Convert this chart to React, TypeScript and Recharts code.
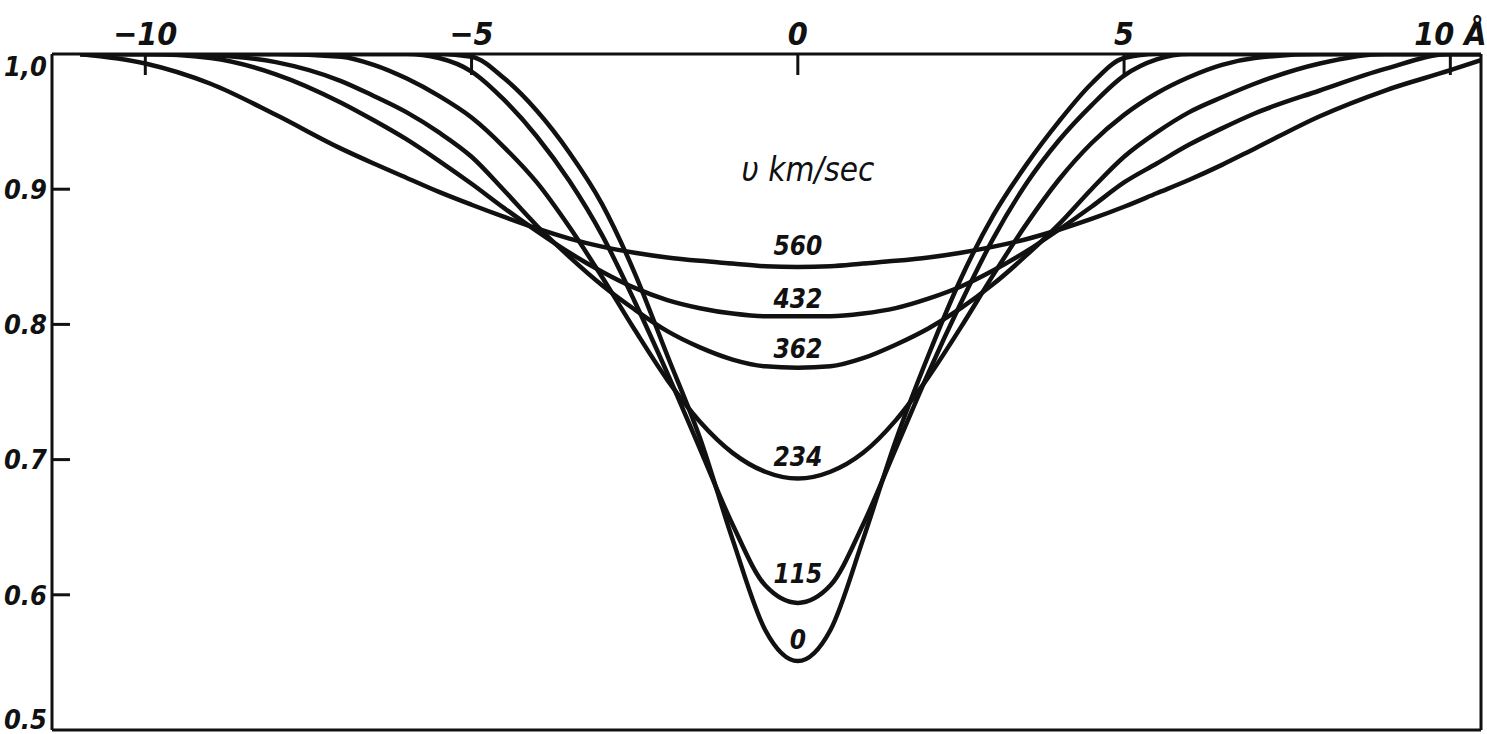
import React from 'react';
import { LineChart, Line, XAxis, YAxis, LabelList, ReferenceLine } from 'recharts';

// Wavelength offset from the line centre, Å
const offsets = [
  -11, -10, -9, -8, -7, -6.5, -6, -5.5, -5, -4.5, -4, -3.5, -3, -2.5, -2, -1.5, -1, -0.5,
  0, 0.5, 1, 1.5, 2, 2.5, 3, 3.5, 4, 4.5, 5, 5.5, 6, 6.5, 7, 8, 9, 10, 10.5,
];

// Residual intensity for each rotation velocity (km/sec)
const v0 = [
  1, 1, 1, 1, 1, 1, 1, 1, 0.998, 0.982, 0.958, 0.927, 0.889, 0.838, 0.777, 0.716, 0.641, 0.574,
  0.551, 0.574, 0.641, 0.714, 0.777, 0.834, 0.881, 0.918, 0.95, 0.978, 0.997, 1, 1, 1, 1, 1, 1, 1, 1,
];
const v115 = [
  1, 1, 1, 1, 1, 1, 1, 0.997, 0.987, 0.966, 0.939, 0.906, 0.866, 0.817, 0.764, 0.708, 0.652, 0.607,
  0.594, 0.607, 0.652, 0.708, 0.764, 0.816, 0.864, 0.904, 0.936, 0.962, 0.984, 0.996, 1, 1, 1, 1, 1, 1, 1,
];
const v234 = [
  1, 1, 1, 1, 0.998, 0.992, 0.982, 0.969, 0.953, 0.931, 0.905, 0.872, 0.835, 0.796, 0.759, 0.728, 0.705, 0.691,
  0.686, 0.691, 0.705, 0.729, 0.761, 0.798, 0.837, 0.874, 0.907, 0.934, 0.955, 0.971, 0.983, 0.992, 0.997, 1, 1, 1, 1,
];
const v362 = [
  1, 1, 0.999, 0.994, 0.98, 0.969, 0.957, 0.942, 0.924, 0.899, 0.873, 0.85, 0.829, 0.811, 0.795, 0.783, 0.774, 0.769,
  0.768, 0.769, 0.775, 0.785, 0.797, 0.812, 0.83, 0.851, 0.874, 0.9, 0.924, 0.942, 0.957, 0.968, 0.978, 0.993, 1, 1, 1,
];
const v432 = [
  1, 1, 0.997, 0.985, 0.964, 0.951, 0.937, 0.921, 0.904, 0.886, 0.869, 0.853, 0.839, 0.827, 0.818, 0.812, 0.808, 0.806,
  0.806, 0.806, 0.808, 0.812, 0.819, 0.828, 0.84, 0.854, 0.87, 0.887, 0.905, 0.919, 0.933, 0.945, 0.956, 0.973, 0.989, 1, 1,
];
const v560 = [
  1, 0.993, 0.978, 0.955, 0.93, 0.919, 0.9085, 0.898, 0.8885, 0.8795, 0.871, 0.8635, 0.8575, 0.853, 0.8495, 0.847, 0.845, 0.843,
  0.8425, 0.843, 0.845, 0.847, 0.8495, 0.853, 0.8575, 0.863, 0.87, 0.878, 0.887, 0.897, 0.907, 0.918, 0.93, 0.954, 0.973, 0.988, 0.996,
];

const velocities = ['0', '115', '234', '362', '432', '560'];
const profiles = [v0, v115, v234, v362, v432, v560];

const waveDomain: [number, number] = [-11.43, 10.47];
const depthDomain: [number, number] = [0.5, 1];
const waveTicks = [-10, -5, 0, 5, 10];
const depthTicks = [0.5, 0.6, 0.7, 0.8, 0.9, 1];

const rows = offsets.map((dl, i) => {
  const row: Record<string, number> = { dl };
  velocities.forEach((v, k) => {
    row['v' + v] = profiles[k][i];
  });
  return row;
});

const INK = '#111';
const FONT = "'Liberation Sans Narrow', 'DejaVu Sans Condensed', 'Roboto Condensed', Roboto, sans-serif";
const centreIndex = offsets.indexOf(0);
// how far each velocity label sits above its curve
const labelLift: Record<string, number> = { '0': 12, '115': 20, '234': 13, '362': 10, '432': 8, '560': 12 };

const waveLabel = (v: number) => (v < 0 ? '\u2212' + Math.abs(v) : v === 10 ? '10 \u00c5' : String(v));

const TopTick = (props: any) => {
  const { x, y, payload } = props;
  return (
    <g>
      <line x1={x} y1={y} x2={x} y2={y + 21} stroke={INK} strokeWidth={3} />
      <text
        x={x}
        y={y - 9}
        textAnchor="middle"
        fontFamily={FONT}
        fontStyle="italic"
        fontWeight={700}
        fontSize={32}
        fill={INK}
      >
        {waveLabel(payload.value)}
      </text>
    </g>
  );
};

const LeftTick = (props: any) => {
  const { x, y, payload } = props;
  const v = payload.value as number;
  const edge = v === 1 || v === 0.5;
  const shift = v === 1 ? 12 : v === 0.5 ? -11 : 0;
  return (
    <g>
      {!edge && <line x1={x} y1={y} x2={x + 18} y2={y} stroke={INK} strokeWidth={3} />}
      <text
        x={x - 5}
        y={y + shift}
        dy="0.36em"
        textAnchor="end"
        fontFamily={FONT}
        fontStyle="italic"
        fontWeight={700}
        fontSize={27}
        fill={INK}
      >
        {v === 1 ? '1,0' : v.toFixed(1)}
      </text>
    </g>
  );
};

const velocityLabel = (name: string) => (props: any) => {
  if (props.index !== centreIndex) return <g />;
  return (
    <text
      x={props.x}
      y={props.y - labelLift[name]}
      textAnchor="middle"
      fontFamily={FONT}
      fontStyle="italic"
      fontWeight={700}
      fontSize={26}
      fill={INK}
    >
      {name}
    </text>
  );
};

const frame = { stroke: INK, strokeWidth: 3 };

export default function App() {
  return (
    <div style={{ position: 'absolute', left: 0, top: 0, width: 1487, height: 734, background: '#fff' }}>
      <LineChart width={1487} height={734} data={rows} margin={{ top: 0, right: 6, bottom: 4, left: 0 }}>
        <XAxis
          xAxisId="top"
          dataKey="dl"
          type="number"
          orientation="top"
          domain={waveDomain}
          ticks={waveTicks}
          interval={0}
          height={54}
          tickSize={0}
          tickMargin={0}
          tick={<TopTick />}
          axisLine={frame}
          allowDataOverflow
        />
        <YAxis
          yAxisId="left"
          type="number"
          domain={depthDomain}
          ticks={depthTicks}
          interval={0}
          width={52}
          tickSize={0}
          tickMargin={0}
          tick={<LeftTick />}
          axisLine={frame}
          allowDataOverflow
        />
        {/* closing edges of the frame */}
        <ReferenceLine xAxisId="top" yAxisId="left" x={waveDomain[1]} stroke={INK} strokeWidth={3} />
        <ReferenceLine xAxisId="top" yAxisId="left" y={depthDomain[0]} stroke={INK} strokeWidth={3} />
        {velocities.map((v) => (
          <Line
            key={v}
            xAxisId="top"
            yAxisId="left"
            dataKey={'v' + v}
            type="monotone"
            stroke={INK}
            strokeWidth={4.5}
            dot={false}
            isAnimationActive={false}
          >
            <LabelList dataKey={'v' + v} content={velocityLabel(v)} />
          </Line>
        ))}
      </LineChart>
      <div
        style={{
          position: 'absolute',
          left: 808,
          top: 153,
          transform: 'translateX(-50%)',
          fontFamily: FONT,
          fontStyle: 'italic',
          fontSize: 33,
          lineHeight: 1,
          color: INK,
          whiteSpace: 'nowrap',
        }}
      >
        {'\u03c5 km/sec'}
      </div>
    </div>
  );
}
